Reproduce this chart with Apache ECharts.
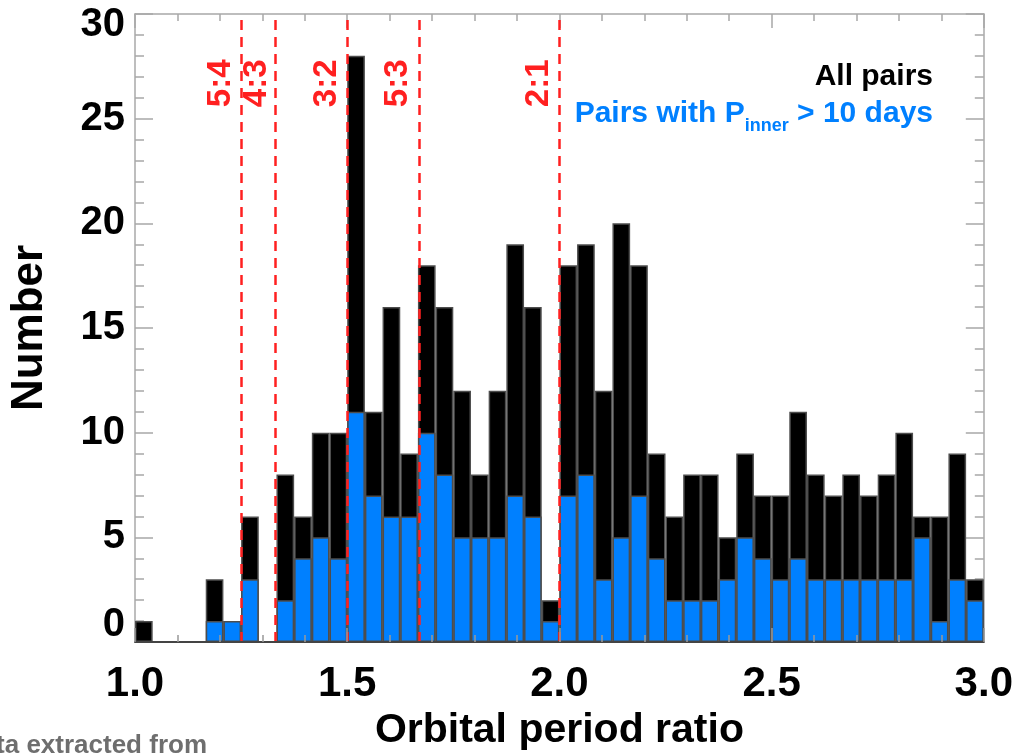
<!DOCTYPE html>
<html><head><meta charset="utf-8">
<script src="https://cdn.jsdelivr.net/npm/echarts@6/dist/echarts.min.js"></script>
<style>html,body{margin:0;padding:0;background:#fff;}#c{width:1016px;height:756px;}</style>
</head><body><div id="c"></div>
<script>
// 48 bins of width 1/24 from 1.0 to 3.0 (bin start values)
const binStarts = Array.from({length: 48}, (_, i) => (1 + i / 24).toFixed(4));
const allPairs = [1,0,0,0,3,1,6,0,8,6,10,10, 28,11,16,9,18,16,12,8,12,19,16,2, 18,19,12,20,18,9,6,8,8,5,9,7, 7,11,8,7,8,7,8,10,6,6,9,3];
const innerPairs = [0,0,0,0,1,1,3,0,2,4,5,4, 11,7,6,6,10,8,5,5,5,7,6,1, 7,8,3,5,7,4,2,2,2,3,5,4, 3,4,3,3,3,3,3,3,5,1,3,2];
const resonanceValues = [5/4, 4/3, 3/2, 5/3, 2];
const resonanceLabels = ['5:4', '4:3', '3:2', '5:3', '2:1'];
const xTickLabels = ['1.0', '1.5', '2.0', '2.5', '3.0'];
const yTickLabels = ['0', '5', '10', '15', '20', '25', '30'];

const FONT = '"Liberation Sans", Arial, Helvetica, sans-serif';
const RED = '#ff2020';
const BLUE = '#0080ff';
const FRAME = '#a8a8a8';

const chart = echarts.init(document.getElementById('c'), null, {renderer: 'canvas'});

const yLabelRich = {
  lo: {fontSize: 40, fontWeight: 'bold', fontFamily: FONT, color: '#000', padding: [0, 0, 34, 0]},
  hi: {fontSize: 40, fontWeight: 'bold', fontFamily: FONT, color: '#000', padding: [22, 0, 0, 0]},
  n: {fontSize: 40, fontWeight: 'bold', fontFamily: FONT, color: '#000'}
};

const option = {
  backgroundColor: '#fff',
  animation: false,
  grid: {left: 133, right: 31, top: 14, bottom: 114, containLabel: false},
  xAxis: [
    {type: 'category', data: binStarts, show: false, boundaryGap: true},
    {
      type: 'value', min: 1, max: 3, interval: 0.5, position: 'bottom', z: 5,
      axisLine: {show: true, onZero: false, lineStyle: {color: '#444', width: 2}},
      axisTick: {show: true, inside: true, length: 14, lineStyle: {color: '#999', width: 1.5}},
      minorTick: {show: true, splitNumber: 5, length: 7, lineStyle: {color: '#999', width: 1.5}},
      splitLine: {show: false},
      axisLabel: {
        fontSize: 42, fontWeight: 'bold', color: '#000', fontFamily: FONT, margin: 21,
        formatter: v => xTickLabels[Math.round((v - 1) / 0.5)]
      },
      name: 'Orbital period ratio', nameLocation: 'middle', nameGap: 66,
      nameTextStyle: {fontSize: 41, fontWeight: 'bold', color: '#000', fontFamily: FONT}
    },
    {
      type: 'value', min: 1, max: 3, interval: 0.5, position: 'top',
      axisLine: {show: true, onZero: false, lineStyle: {color: FRAME, width: 1.5}},
      axisTick: {show: true, inside: true, length: 14, lineStyle: {color: FRAME, width: 1.5}},
      minorTick: {show: true, splitNumber: 5, length: 7, lineStyle: {color: FRAME, width: 1.5}},
      splitLine: {show: false},
      axisLabel: {show: false}
    }
  ],
  yAxis: [
    {
      type: 'value', min: 0, max: 30, interval: 5, position: 'left',
      axisLine: {show: true, onZero: false, lineStyle: {color: FRAME, width: 1.5}},
      axisTick: {show: true, inside: true, length: 18, lineStyle: {color: FRAME, width: 1.5}},
      minorTick: {show: true, splitNumber: 5, length: 9, lineStyle: {color: FRAME, width: 1.5}},
      splitLine: {show: false},
      axisLabel: {
        margin: 10, fontSize: 40, fontWeight: 'bold', color: '#000', fontFamily: FONT,
        formatter: v => {
          const i = Math.round(v / 5);
          const t = yTickLabels[i];
          if (i === 0) return '{lo|' + t + '}';
          if (i === yTickLabels.length - 1) return '{hi|' + t + '}';
          return '{n|' + t + '}';
        },
        rich: yLabelRich
      },
      name: 'Number', nameLocation: 'middle', nameGap: 83, nameRotate: 90,
      nameTextStyle: {fontSize: 44, fontWeight: 'bold', color: '#000', fontFamily: FONT}
    },
    {
      type: 'value', min: 0, max: 30, interval: 5, position: 'right',
      axisLine: {show: true, onZero: false, lineStyle: {color: FRAME, width: 1.5}},
      axisTick: {show: true, inside: true, length: 18, lineStyle: {color: FRAME, width: 1.5}},
      minorTick: {show: true, splitNumber: 5, length: 9, lineStyle: {color: FRAME, width: 1.5}},
      splitLine: {show: false},
      axisLabel: {show: false}
    }
  ],
  series: [
    {
      name: 'All pairs', type: 'bar', xAxisIndex: 0, yAxisIndex: 0,
      data: allPairs, barWidth: '100%', barGap: '-100%', barCategoryGap: 0,
      itemStyle: {color: '#000', borderColor: '#4d4d4d', borderWidth: 1.5}
    },
    {
      name: 'Pairs with P_inner > 10 days', type: 'bar', xAxisIndex: 0, yAxisIndex: 0,
      data: innerPairs, barWidth: '100%', barGap: '-100%', barCategoryGap: 0,
      itemStyle: {color: BLUE, borderColor: '#4d4d4d', borderWidth: 1.5}
    },
    {
      name: 'resonances', type: 'line', xAxisIndex: 1, yAxisIndex: 0, data: [], z: 6,
      markLine: {
        silent: true, symbol: ['none', 'none'], animation: false,
        label: {show: false},
        lineStyle: {type: [10, 7], color: RED, width: 2.5},
        data: resonanceValues.map(v => ({xAxis: v}))
      }
    }
  ]
};
chart.setOption(option);

// labels for resonances and the in-plot legend, placed via axis conversion
const graphics = [];
const yLabelStart = chart.convertToPixel({yAxisIndex: 0}, 25.55);
resonanceValues.forEach((v, i) => {
  const px = chart.convertToPixel({xAxisIndex: 1}, v);
  graphics.push({
    type: 'text', x: px - 20, y: yLabelStart, rotation: Math.PI / 2, z: 10,
    style: {text: resonanceLabels[i], fill: RED, font: 'bold 33px ' + FONT, align: 'left', verticalAlign: 'middle'}
  });
});
graphics.push({
  type: 'text', x: 933, y: 77, z: 10,
  style: {text: 'All pairs', fill: '#000', font: 'bold 30px ' + FONT, align: 'right', verticalAlign: 'middle'}
});
graphics.push({
  type: 'text', x: 933, y: 114, z: 10,
  style: {
    text: '{a|Pairs with P}{s|inner}{a| > 10 days}',
    align: 'right', verticalAlign: 'middle',
    rich: {
      a: {fill: BLUE, font: 'bold 30px ' + FONT, lineHeight: 42, verticalAlign: 'middle'},
      s: {fill: BLUE, font: 'bold 18px ' + FONT, lineHeight: 18, verticalAlign: 'bottom'}
    }
  }
});
graphics.push({
  type: 'text', x: 207, y: 759, z: 10,
  style: {text: 'Data extracted from', fill: '#6e6e6e', font: 'bold 26px ' + FONT, align: 'right', verticalAlign: 'bottom'}
});
chart.setOption({graphic: graphics});
</script>
</body></html>
